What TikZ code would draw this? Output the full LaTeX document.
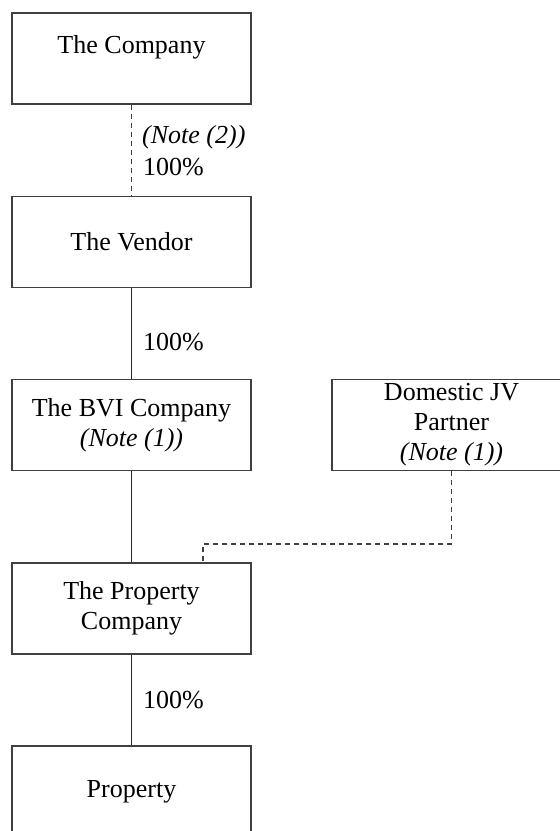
\documentclass[tikz,border=0pt]{standalone}
\usepackage{fontspec}
\setmainfont{Liberation Serif}
\begin{document}
\begin{tikzpicture}[x=1pt,y=-1pt,
  box/.style={draw=black!75,line width=1.5pt,rectangle,minimum width=239pt,minimum height=91pt,inner sep=0pt,align=center,font=\fontsize{26}{30}\selectfont},
  txt/.style={inner sep=0pt,align=center,font=\fontsize{26}{30}\selectfont},
  lbl/.style={inner sep=0pt,anchor=west,font=\fontsize{26}{30}\selectfont},
  link/.style={draw=black!85,line width=1.3pt},
  dashlink/.style={draw=black!75,line width=1.3pt,dash pattern=on 5pt off 4pt}]
\clip (0,0) rectangle (560,831);
\fill[white] (0,0) rectangle (560,831);
\node[box] (company) at (131.5,58.5) {};
\node[txt] (companytxt) at (131.5,47) {The Company};
\node[box] (vendor) at (131.5,242) {The Vendor};
\node[box] (bvi) at (131.5,425) {The BVI Company\\\textit{(Note (1))}};
\node[box] (jv) at (451.5,425) {Domestic JV\\Partner\\\textit{(Note (1))}};
\node[box] (pc) at (131.5,608.5) {The Property\\Company};
\node[box] (prop) at (131.5,791.5) {Property};
\coordinate (elbow) at (203,544);
\draw[dashlink] (company.south) -- (vendor.north);
\draw[link] (vendor.south) -- (bvi.north);
\draw[link] (bvi.south) -- (pc.north);
\draw[link] (pc.south) -- (prop.north);
\draw[dashlink] (jv.south) |- (elbow) -- (elbow |- pc.north);
\node[lbl] (note2) at (142,137) {\textit{(Note (2))}};
\node[lbl] (pct1) at (143,167) {100\%};
\node[lbl] (pct2) at (143,342) {100\%};
\node[lbl] (pct3) at (143,700) {100\%};
\end{tikzpicture}
\end{document}
